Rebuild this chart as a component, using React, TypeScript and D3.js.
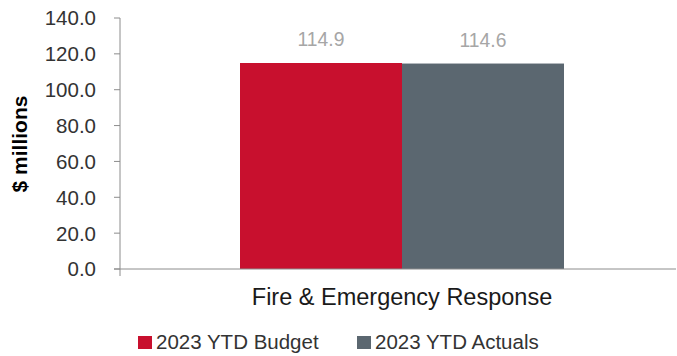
import React from "react";
import * as d3 from "d3";

const categories = ["Fire & Emergency Response"];
const seriesNames = ["2023 YTD Budget", "2023 YTD Actuals"];
const budget = [114.9];
const actuals = [114.6];
const yTicks = [0, 20, 40, 60, 80, 100, 120, 140];
const colors = ["#C8102E", "#5B6770"];

const W = 677, H = 356;
const FONT = "'Liberation Sans', Arial, sans-serif";

export default function App() {
  const y = d3.scaleLinear().domain([0, 140]).range([269, 18]);
  const x0 = d3.scaleBand<string>().domain(categories).range([128, 676]).paddingInner(0).paddingOuter(0.3457);
  const x1 = d3.scaleBand<string>().domain(seriesNames).range([0, x0.bandwidth()]).padding(0);
  const values = [budget, actuals];
  const axisX = 120;
  const legendX = [138, 357];
  return (
    <svg width={W} height={H} style={{ position: "absolute", left: 0, top: 0, fontFamily: FONT }}>
      <rect width={W} height={H} fill="#fff" />
      {categories.map((c, ci) => (
        <g key={c}>
          {seriesNames.map((s, si) => {
            const v = values[si][ci];
            const bx = (x0(c) ?? 0) + (x1(s) ?? 0);
            return (
              <g key={s}>
                <rect x={bx} y={y(v)} width={x1.bandwidth()} height={y(0) - y(v)} fill={colors[si]} />
                <text x={bx + x1.bandwidth() / 2} y={y(v) - 17} textAnchor="middle" fontSize={19.3} fill="#A6A6A6">
                  {v.toFixed(1)}
                </text>
              </g>
            );
          })}
          <text x={(x0(c) ?? 0) + x0.bandwidth() / 2} y={305} textAnchor="middle" fontSize={23.5} fill="#1a1a1a">
            {c}
          </text>
        </g>
      ))}
      <line x1={axisX} x2={axisX} y1={y(140)} y2={276} stroke="#8c8c8c" strokeWidth={1} />
      <line x1={114} x2={676} y1={y(0)} y2={y(0)} stroke="#8c8c8c" strokeWidth={1} />
      {yTicks.map((t) => (
        <g key={t}>
          <line x1={114} x2={axisX} y1={y(t)} y2={y(t)} stroke="#8c8c8c" strokeWidth={1} />
          <text x={96} y={y(t)} dy="0.36em" textAnchor="end" fontSize={20.5} fill="#333">
            {t.toFixed(1)}
          </text>
        </g>
      ))}
      <text transform={`translate(27,144) rotate(-90)`} textAnchor="middle" fontSize={21} fontWeight="bold" fill="#000">
        $ millions
      </text>
      {seriesNames.map((s, i) => (
        <g key={s}>
          <rect x={legendX[i]} y={336} width={14} height={13} fill={colors[i]} />
          <text x={legendX[i] + 18} y={348.5} fontSize={20.5} fill="#333">{s}</text>
        </g>
      ))}
    </svg>
  );
}
